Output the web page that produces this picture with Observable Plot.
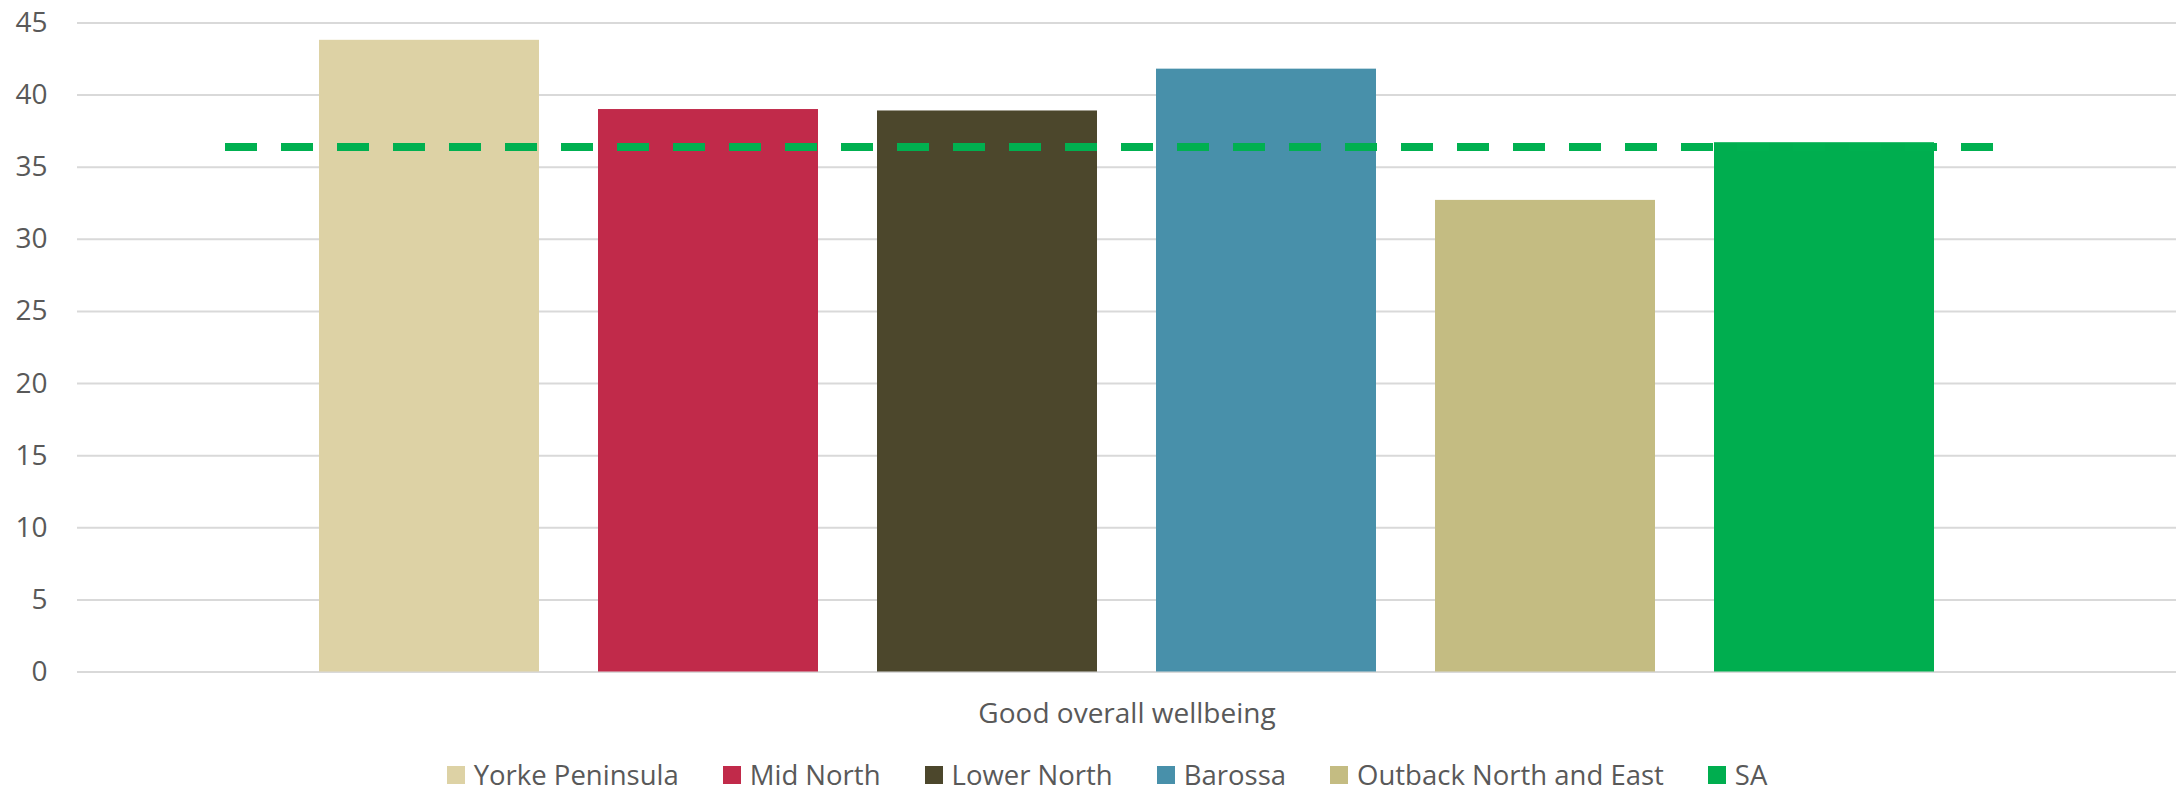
<!DOCTYPE html>
<html>
<head>
<meta charset="utf-8">
<script src="https://cdn.jsdelivr.net/npm/d3@7"></script>
<script src="https://cdn.jsdelivr.net/npm/@observablehq/plot@0.6"></script>
<style>
  html, body { margin: 0; padding: 0; background: #fff; }
  #chart svg { display: block; }
  .legend { display: flex; justify-content: center; align-items: center; margin-top: 12px; height: 35px;
            padding-left: 36px;
            font-family: 'Open Sans', sans-serif; font-size: 27.5px; color: #595959; }
  .legend .item { display: flex; align-items: center; margin: 0 22px; }
  .legend .sw { width: 18px; height: 18px; margin-right: 9px; }
</style>
</head>
<body>
<div id="chart"></div>
<script>
const categories = ["Yorke Peninsula", "Mid North", "Lower North", "Barossa", "Outback North and East", "SA"];
const values = [43.8, 39.0, 38.9, 41.8, 32.7, 36.7];
const colors = ["#DDD2A5", "#C12A4A", "#4C472C", "#4890AA", "#C4BC82", "#00AE4F"];
const saAverage = [36.4];
const groupLabel = "Good overall wellbeing";
const yTicks = [0, 5, 10, 15, 20, 25, 30, 35, 40, 45];

const data = categories.map((c, i) => ({region: c, value: values[i], group: groupLabel}));

const plot = Plot.plot({
  width: 2178,
  height: 745,
  marginLeft: 77,
  marginRight: 2,
  marginTop: 22.5,
  marginBottom: 73.5,
  style: {fontFamily: "'Open Sans', sans-serif", fontSize: "28px", color: "#595959", background: "white"},
  fx: {domain: [groupLabel], padding: 0, axis: "bottom", label: null, tickSize: 0, tickPadding: 31},
  x: {domain: categories, axis: null, paddingInner: 0.21, paddingOuter: 0.86, align: 0.5},
  y: {domain: [0, 45], ticks: yTicks, tickSize: 0, tickPadding: 30, label: null},
  color: {domain: categories, range: colors},
  marks: [
    Plot.ruleY(yTicks, {stroke: "#D9D9D9", strokeWidth: 2}),
    Plot.barY(data, {fx: "group", x: "region", y: "value", fill: "region"}),
    Plot.ruleY(saAverage, {stroke: "#00B050", strokeWidth: 8, strokeDasharray: "32,24", insetLeft: 148, insetRight: 183})
  ]
});
document.getElementById("chart").appendChild(plot);

const legend = document.createElement("div");
legend.className = "legend";
categories.forEach((c, i) => {
  const item = document.createElement("div");
  item.className = "item";
  const sw = document.createElement("span");
  sw.className = "sw";
  sw.style.background = colors[i];
  const t = document.createElement("span");
  t.textContent = c;
  item.appendChild(sw);
  item.appendChild(t);
  legend.appendChild(item);
});
document.getElementById("chart").appendChild(legend);
</script>
</body>
</html>
